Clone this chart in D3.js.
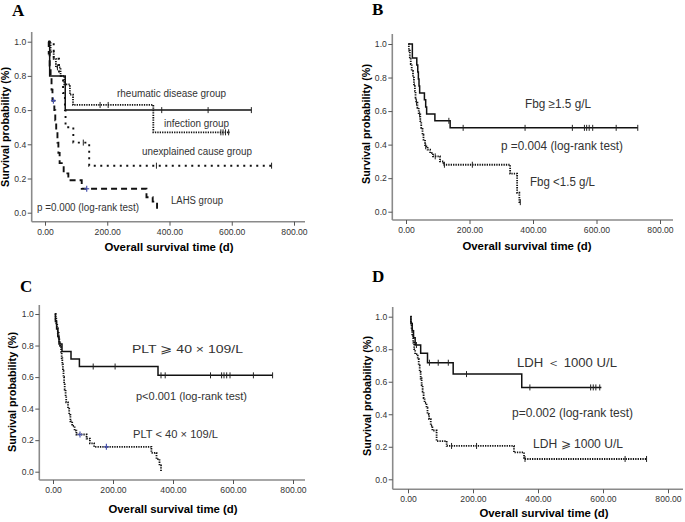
<!DOCTYPE html>
<html><head><meta charset="utf-8">
<script src="https://cdn.jsdelivr.net/npm/d3@7"></script>
<style>body{margin:0;background:#fff} svg{display:block}</style>
</head><body>
<svg id="c" width="685" height="522"></svg>
<script>
// ---------- shared tick values ----------
const xTicks = [0, 200, 400, 600, 800];
const yTicks = [0, 0.2, 0.4, 0.6, 0.8, 1.0];
const xTitle = "Overall survival time (d)";
const yTitle = "Survival probability (%)";

// ---------- Panel A: [time (d), survival] steps ----------
const A_rheumatic = [[10,1.0],[15,0.8],[65,0.6],[663,0.6]];
const A_rheumatic_cens = [375, 524, 663];
const A_infection = [[12,1.0],[18,0.94],[28,0.9],[35,0.85],[50,0.8],[62,0.75],[80,0.69],[90,0.63],[348,0.47],[594,0.47]];
const A_infection_cens = [40, 177, 203, 565, 572, 580, 590];
const A_unexplained = [[12,1.0],[28,0.9],[45,0.8],[58,0.7],[64,0.6],[66,0.5],[91,0.41],[142,0.275],[728,0.275]];
const A_unexplained_cens = [123, 358, 728];
const A_lahs = [[10,1.0],[12,0.93],[15,0.86],[18,0.79],[21,0.72],[24,0.655],[30,0.6],[33,0.54],[36,0.48],[40,0.41],[43,0.35],[47,0.29],[60,0.23],[75,0.19],[118,0.14],[326,0.09],[346,0.065],[360,0.0]];
const A_lahs_cens_blue = [27, 134];
const A_texts = ["rheumatic disease group", "infection group", "unexplained cause group", "LAHS group", "p =0.000 (log-rank test)"];

// ---------- Panel B ----------
const B_high = [[10,1.0],[20,0.917],[34,0.875],[37,0.833],[39,0.792],[41,0.75],[43,0.708],[58,0.667],[62,0.625],[65,0.583],[91,0.542],[139,0.5],[730,0.5]];
const B_high_cens = [135, 180, 375, 524, 562, 569, 577, 588, 662, 730];
const B_low = [[7,1.0],[9,0.96],[12,0.92],[15,0.88],[18,0.84],[22,0.8],[25,0.76],[28,0.72],[30,0.68],[32,0.65],[36,0.62],[40,0.58],[45,0.54],[48,0.5],[52,0.46],[55,0.43],[60,0.39],[68,0.37],[76,0.35],[85,0.33],[107,0.3],[118,0.28],[328,0.227],[350,0.113],[357,0.057],[360,0.057]];
const B_low_cens = [33, 43, 62, 92, 121, 209, 360];
const B_texts = ["Fbg \u22651.5 g/L", "p =0.004 (log-rank test)", "Fbg <1.5 g/L"];

// ---------- Panel C ----------
const C_high = [[5,1.0],[8,0.952],[12,0.905],[16,0.857],[20,0.81],[30,0.762],[60,0.714],[88,0.667],[350,0.611],[732,0.611]];
const C_high_cens = [23, 134, 207, 360, 374, 525, 562, 570, 579, 590, 668, 732];
const C_low = [[7,1.0],[9,0.97],[11,0.94],[14,0.91],[16,0.88],[19,0.85],[21,0.82],[24,0.79],[27,0.76],[29,0.72],[31,0.68],[33,0.64],[35,0.6],[37,0.56],[39,0.52],[42,0.48],[44,0.44],[50,0.4],[54,0.36],[58,0.32],[64,0.29],[72,0.26],[78,0.236],[112,0.21],[123,0.18],[137,0.158],[328,0.12],[345,0.08],[355,0.04],[360,0.0]];
const C_low_cens_blue = [90, 178];
const C_texts = ["PLT \u2A7E 40 \u00D7 109/L", "p<0.001 (log-rank test)", "PLT < 40 \u00D7 109/L"];

// ---------- Panel D ----------
const D_low = [[7,1.0],[9,0.957],[13,0.913],[17,0.87],[22,0.826],[39,0.775],[60,0.717],[139,0.647],[350,0.565],[595,0.565]];
const D_low_cens = [26, 66, 93, 124, 180, 375, 562, 570, 578, 590];
const D_high = [[7,1.0],[9,0.96],[11,0.92],[13,0.88],[16,0.84],[19,0.8],[22,0.77],[30,0.74],[33,0.7],[36,0.66],[39,0.62],[42,0.58],[45,0.54],[48,0.5],[51,0.47],[57,0.44],[60,0.4],[65,0.37],[70,0.33],[75,0.3],[88,0.235],[119,0.205],[326,0.165],[357,0.125],[734,0.125]];
const D_high_cens = [134, 211, 360, 668, 734];
const D_texts = ["LDH \uFF1C 1000 U/L", "p=0.002 (log-rank test)", "LDH \u2A7E 1000 U/L"];

// ---------- layout ----------
const DOT = "1.3,1.1", SPARSE = "2,4.5", DASH = "6,4";
const panels = [
  {letter:"A", lp:[12,16], axX:31.7, axY:221.7, x0:45, x800:294, y0:212.7, y1:41.7, top:32, right:305,
   ylab:[9,127], xlab:[169,251],
   curves:[
     {d:A_rheumatic, cens:A_rheumatic_cens, dash:null, w:1.5},
     {d:A_infection, cens:A_infection_cens, dash:DOT, w:1.8},
     {d:A_unexplained, cens:A_unexplained_cens, dash:SPARSE, w:1.9},
     {d:A_lahs, censBlue:A_lahs_cens_blue, dash:DASH, w:1.9}],
   texts:A_texts, fs:10, tpos:[[171.5,96.5,109],[196.5,127,65],[197,155,110],[197,203.5,52],[88,210.5,102]]},
  {letter:"B", lp:[372,15], axX:392.3, axY:220, x0:406, x800:660, y0:211.7, y1:44, top:34, right:673,
   ylab:[370,124], xlab:[527,250],
   curves:[
     {d:B_high, cens:B_high_cens, dash:null, w:1.5},
     {d:B_low, cens:B_low_cens, dash:DOT, w:1.8}],
   texts:B_texts, fs:12, tpos:[[558,107.5,66],[562,150,122],[562.5,185.5,65]]},
  {letter:"C", lp:[20,292], axX:39.3, axY:480, x0:53, x800:293, y0:471.7, y1:314, top:305, right:305,
   ylab:[16,392], xlab:[173,513],
   curves:[
     {d:C_high, cens:C_high_cens, dash:null, w:1.5},
     {d:C_low, censBlue:C_low_cens_blue, dash:DOT, w:1.8}],
   texts:C_texts, fs:11.5, tpos:[[187.5,353,111],[191.5,400,111],[175.5,438,85]]},
  {letter:"D", lp:[372,282], axX:392.7, axY:489.3, x0:408, x800:668, y0:479.3, y1:316.7, top:307, right:683,
   ylab:[370.5,396], xlab:[544,517],
   curves:[
     {d:D_low, cens:D_low_cens, dash:null, w:1.5},
     {d:D_high, cens:D_high_cens, dash:DOT, w:1.8}],
   texts:D_texts, fs:12, tpos:[[567,367,100],[572.5,416.5,121],[578,448,90]]}
];

const svg = d3.select("#c");
const SANS = "'Liberation Sans', Arial, sans-serif";

function survAt(steps, t) {
  let v = steps[0][1];
  for (const s of steps) { if (s[0] <= t) v = s[1]; }
  return v;
}

panels.forEach(p => {
  const g = svg.append("g");
  const x = d3.scaleLinear().domain([0, 800]).range([p.x0, p.x800]);
  const y = d3.scaleLinear().domain([0, 1]).range([p.y0, p.y1]);

  // panel letter
  g.append("text").attr("x", p.lp[0]).attr("y", p.lp[1]).text(p.letter)
    .attr("font-family", "'Liberation Serif', 'Times New Roman', serif")
    .attr("font-weight", "bold").attr("font-size", 17).attr("fill", "#000");

  // axes lines
  g.append("line").attr("x1", p.axX).attr("x2", p.right).attr("y1", p.axY).attr("y2", p.axY)
    .attr("stroke", "#8a8a8a").attr("stroke-width", 1.6);
  g.append("line").attr("x1", p.axX).attr("x2", p.axX).attr("y1", p.top).attr("y2", p.axY)
    .attr("stroke", "#8a8a8a").attr("stroke-width", 1.6);

  const xa = g.append("g").attr("transform", `translate(0,${p.axY})`)
    .call(d3.axisBottom(x).tickValues(xTicks).tickFormat(d3.format(".2f")).tickSize(4).tickSizeOuter(0).tickPadding(3));
  const ya = g.append("g").attr("transform", `translate(${p.axX},0)`)
    .call(d3.axisLeft(y).tickValues(yTicks).tickFormat(d3.format(".1f")).tickSize(4).tickSizeOuter(0).tickPadding(1.5));
  [xa, ya].forEach(a => {
    a.select(".domain").remove();
    a.selectAll(".tick line").attr("stroke", "#555").attr("stroke-width", 1);
    a.selectAll(".tick text").attr("font-family", SANS).attr("font-size", 8.6).attr("fill", "#333");
  });

  // axis titles
  g.append("text").attr("x", p.xlab[0]).attr("y", p.xlab[1]).attr("text-anchor", "middle")
    .attr("font-family", SANS).attr("font-weight", "bold").attr("font-size", 11.4).text(xTitle);
  g.append("text").attr("transform", `translate(${p.ylab[0]},${p.ylab[1]}) rotate(-90)`)
    .attr("text-anchor", "middle").attr("font-family", SANS).attr("font-weight", "bold")
    .attr("font-size", 10.8).text(yTitle);

  // curves
  const line = d3.line().x(d => x(d[0])).y(d => y(d[1])).curve(d3.curveStepAfter);
  p.curves.forEach(c => {
    g.append("path").attr("d", line(c.d)).attr("fill", "none").attr("stroke", "#111")
      .attr("stroke-width", c.w).attr("stroke-dasharray", c.dash);
    (c.cens || []).forEach(t => {
      const cx = x(t), cy = y(survAt(c.d, t));
      g.append("line").attr("x1", cx).attr("x2", cx).attr("y1", cy - 3).attr("y2", cy + 3)
        .attr("stroke", "#222").attr("stroke-width", 1);
    });
    (c.censBlue || []).forEach(t => {
      const cx = x(t), cy = y(survAt(c.d, t));
      g.append("line").attr("x1", cx).attr("x2", cx).attr("y1", cy - 3).attr("y2", cy + 3)
        .attr("stroke", "#4a55b0").attr("stroke-width", 1.2);
      g.append("line").attr("x1", cx - 2.5).attr("x2", cx + 2.5).attr("y1", cy).attr("y2", cy)
        .attr("stroke", "#4a55b0").attr("stroke-width", 1.2);
    });
  });

  // annotations
  p.texts.forEach((t, i) => {
    const [tx, ty, tw] = p.tpos[i];
    g.append("text").attr("x", tx).attr("y", ty).attr("text-anchor", "middle")
      .attr("font-family", SANS).attr("font-size", p.fs).attr("fill", "#333")
      .attr("textLength", tw).attr("lengthAdjust", "spacingAndGlyphs").text(t);
  });
});
</script>
</body></html>
